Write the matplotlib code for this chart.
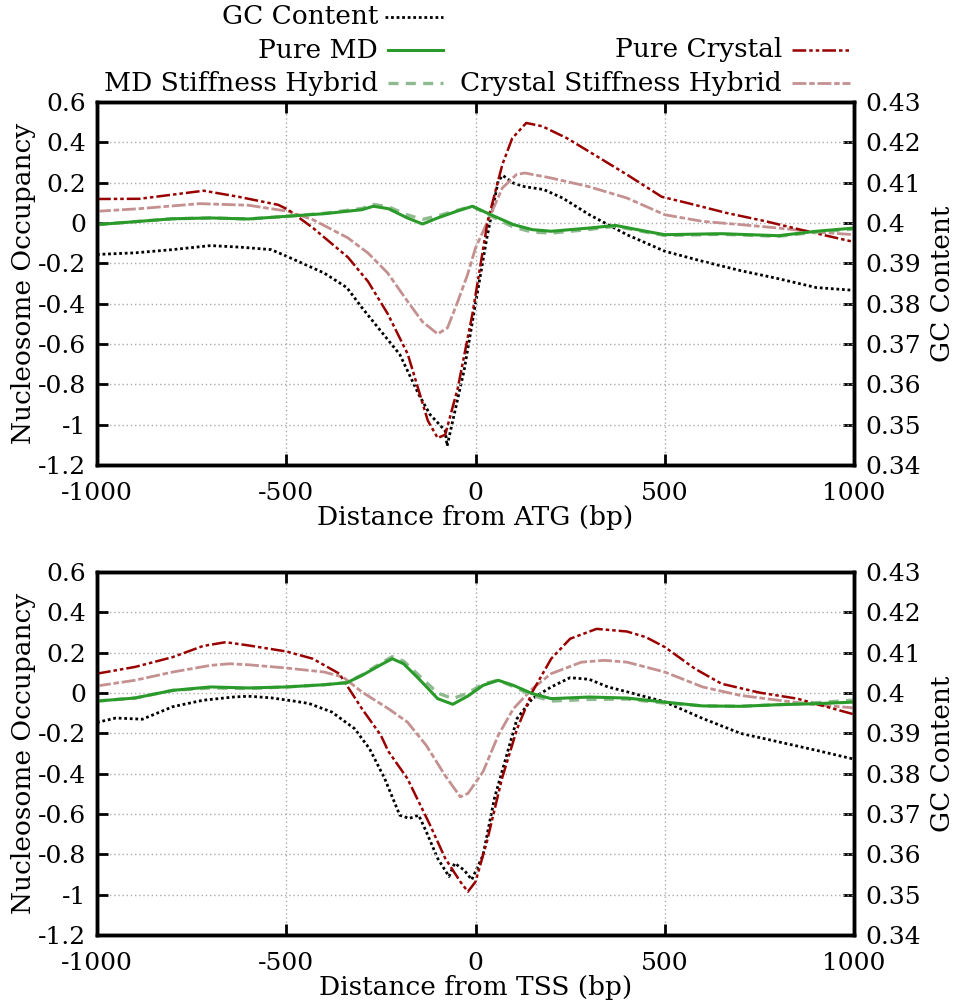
import matplotlib
matplotlib.use("Agg")
import matplotlib.pyplot as plt
from matplotlib.lines import Line2D

plt.rcParams['font.family'] = ['DejaVu Serif']

# ---------------- Top panel (ATG) ----------------
atg_crystal_x = [-1000, -888, -718, -626, -521, -495, -429, -337, -284, -232, -179, -126, -100, -80, -47, -8, 32, 71, 97, 134, 176, 242, 295, 400, 492, 558, 663, 768, 874, 1000]
atg_crystal_y = [0.119, 0.12, 0.16, 0.13, 0.09, 0.066, -0.025, -0.17, -0.29, -0.45, -0.65, -0.98, -1.066, -1.05, -0.82, -0.45, 0.008, 0.29, 0.42, 0.496, 0.48, 0.42, 0.36, 0.24, 0.13, 0.10, 0.05, 0.008, -0.04, -0.094]

atg_crysthyb_x = [-1000, -888, -729, -600, -495, -430, -337, -284, -232, -179, -140, -100, -74, -47, -21, 0, 32, 71, 108, 130, 200, 300, 400, 500, 600, 700, 800, 900, 1000]
atg_crysthyb_y = [0.058, 0.071, 0.096, 0.088, 0.058, 0.017, -0.074, -0.149, -0.248, -0.39, -0.49, -0.55, -0.52, -0.39, -0.256, -0.124, 0.008, 0.174, 0.24, 0.248, 0.223, 0.18, 0.124, 0.041, 0.008, -0.008, -0.025, -0.045, -0.058]

atg_md_x = [-1000, -800, -700, -600, -500, -400, -300, -270, -230, -180, -140, -100, -50, -8, 30, 100, 150, 200, 300, 370, 450, 500, 650, 800, 900, 1000]
atg_md_y = [-0.008, 0.021, 0.025, 0.02, 0.033, 0.046, 0.066, 0.083, 0.071, 0.025, -0.005, 0.025, 0.058, 0.083, 0.05, -0.008, -0.033, -0.041, -0.025, -0.012, -0.041, -0.058, -0.053, -0.063, -0.041, -0.025]

atg_mdhyb_x = [-1000, -800, -700, -600, -500, -400, -300, -270, -230, -180, -140, -100, -50, -8, 30, 100, 150, 200, 300, 370, 450, 500, 650, 800, 900, 1000]
atg_mdhyb_y = [-0.008, 0.021, 0.025, 0.02, 0.033, 0.048, 0.072, 0.092, 0.08, 0.04, 0.018, 0.035, 0.062, 0.083, 0.045, -0.02, -0.045, -0.05, -0.032, -0.016, -0.045, -0.062, -0.056, -0.066, -0.045, -0.03]

atg_gc_x = [-1000, -900, -800, -700, -620, -540, -500, -450, -400, -340, -300, -250, -200, -150, -120, -80, -75, -60, -30, 0, 30, 60, 72, 100, 130, 180, 230, 300, 350, 400, 500, 600, 700, 800, 900, 1000]
atg_gc_y = [0.3922, 0.3926, 0.3934, 0.3944, 0.394, 0.3934, 0.3918, 0.3897, 0.3876, 0.384, 0.379, 0.3732, 0.3674, 0.3575, 0.3525, 0.3485, 0.3447, 0.351, 0.3635, 0.38, 0.3963, 0.4104, 0.4118, 0.4099, 0.409, 0.4083, 0.4062, 0.4021, 0.3996, 0.3971, 0.393, 0.3905, 0.3882, 0.3862, 0.384, 0.3833]

# ---------------- Bottom panel (TSS) ----------------
tss_crystal_x = [-1000, -900, -800, -720, -660, -600, -500, -430, -360, -300, -250, -230, -180, -120, -80, -40, -20, 0, 30, 70, 110, 150, 200, 250, 320, 400, 450, 500, 580, 650, 750, 850, 1000]
tss_crystal_y = [0.096, 0.129, 0.178, 0.233, 0.252, 0.236, 0.206, 0.17, 0.096, -0.078, -0.21, -0.29, -0.424, -0.655, -0.82, -0.936, -0.985, -0.936, -0.738, -0.424, -0.177, 0.005, 0.17, 0.269, 0.318, 0.305, 0.277, 0.228, 0.12, 0.046, 0.002, -0.028, -0.106]

tss_crysthyb_x = [-1000, -900, -800, -700, -650, -600, -500, -400, -350, -300, -230, -180, -130, -80, -40, -20, 20, 60, 100, 150, 200, 280, 340, 400, 500, 600, 700, 800, 900, 1000]
tss_crysthyb_y = [0.035, 0.063, 0.104, 0.137, 0.145, 0.14, 0.124, 0.104, 0.079, 0.005, -0.078, -0.144, -0.26, -0.41, -0.515, -0.498, -0.39, -0.21, -0.078, 0.021, 0.096, 0.153, 0.162, 0.153, 0.104, 0.03, -0.012, -0.036, -0.058, -0.074]

tss_md_x = [-1000, -900, -800, -700, -600, -500, -400, -340, -300, -250, -220, -190, -150, -100, -60, -20, 20, 60, 100, 150, 200, 300, 400, 500, 600, 700, 800, 900, 1000]
tss_md_y = [-0.04, -0.025, 0.013, 0.03, 0.025, 0.03, 0.041, 0.051, 0.087, 0.14, 0.17, 0.145, 0.071, -0.028, -0.056, -0.015, 0.038, 0.063, 0.038, -0.003, -0.028, -0.02, -0.025, -0.045, -0.064, -0.066, -0.058, -0.053, -0.045]

tss_mdhyb_x = [-1000, -900, -800, -700, -600, -500, -400, -340, -300, -250, -220, -190, -150, -100, -60, -20, 20, 60, 100, 150, 200, 300, 400, 500, 600, 700, 800, 900, 1000]
tss_mdhyb_y = [-0.04, -0.025, 0.013, 0.025, 0.022, 0.03, 0.041, 0.052, 0.09, 0.148, 0.18, 0.158, 0.088, 0.0, -0.028, 0.0, 0.045, 0.063, 0.032, -0.012, -0.04, -0.032, -0.03, -0.05, -0.064, -0.066, -0.058, -0.048, -0.035]

tss_gc_x = [-1000, -950, -880, -800, -720, -640, -600, -540, -480, -440, -380, -320, -280, -240, -200, -175, -150, -130, -100, -70, -55, -30, -10, 20, 50, 80, 110, 150, 200, 250, 300, 350, 400, 500, 600, 700, 800, 900, 1000]
tss_gc_y = [0.3927, 0.3938, 0.3935, 0.3966, 0.3982, 0.399, 0.3992, 0.3988, 0.398, 0.3974, 0.3953, 0.3912, 0.3862, 0.3788, 0.3697, 0.3689, 0.3697, 0.3656, 0.359, 0.3545, 0.3578, 0.3561, 0.3537, 0.3598, 0.3739, 0.3838, 0.3937, 0.3986, 0.4015, 0.4038, 0.4034, 0.4015, 0.4003, 0.3978, 0.3937, 0.39, 0.3879, 0.3858, 0.3836]

x_ticks = [-1000, -500, 0, 500, 1000]
y_ticks = [-1.2, -1.0, -0.8, -0.6, -0.4, -0.2, 0.0, 0.2, 0.4, 0.6]
y_labels = ['-1.2', '-1', '-0.8', '-0.6', '-0.4', '-0.2', '0', '0.2', '0.4', '0.6']
gc_ticks = [0.34, 0.35, 0.36, 0.37, 0.38, 0.39, 0.40, 0.41, 0.42, 0.43]
gc_labels = ['0.34', '0.35', '0.36', '0.37', '0.38', '0.39', '0.4', '0.41', '0.42', '0.43']

# styles
C_MD = '#2a9a2a'
C_MDH = '#8fba8f'
C_CR = '#990000'
C_CRH = '#c49090'
ST_GC = dict(color='black', lw=2.0, linestyle=(0, (1, 1)))
ST_MD = dict(color=C_MD, lw=2.2, linestyle='-')
ST_MDH = dict(color=C_MDH, lw=2.4, linestyle=(0, (3, 2.2)))
ST_CR = dict(color=C_CR, lw=1.8, linestyle=(0, (5.5, 1.2, 1.4, 1.2, 1.4, 1.2)))
ST_CRH = dict(color=C_CRH, lw=2.0, linestyle=(0, (5, 1.0, 2.0, 1.0)))

FS = 18     # tick labels
FL = 19     # axis labels and legend

fig = plt.figure(figsize=(9.55, 10.02), dpi=100)

def panel(rect, gcx, gcy, crx, cry, chx, chy, mdx, mdy, mhx, mhy, xlabel):
    ax = fig.add_axes(rect)
    ax2 = ax.twinx()
    ax.set_zorder(2)
    ax.patch.set_visible(False)
    ax.set_xlim(-1000, 1000)
    ax.set_ylim(-1.2, 0.6)
    ax2.set_ylim(0.34, 0.43)
    ax.set_xticks(x_ticks)
    ax.set_xticklabels([str(v) for v in x_ticks])
    ax.set_yticks(y_ticks)
    ax.set_yticklabels(y_labels)
    ax2.set_yticks(gc_ticks)
    ax2.set_yticklabels(gc_labels)
    ax.grid(True, color='#aaaaaa', linestyle=(0, (1, 2)), lw=1.0)
    ax.tick_params(axis='y', direction='in', length=8, width=2, labelsize=FS, pad=8)
    ax.tick_params(axis='x', direction='in', length=8, width=2, labelsize=FS, top=True, pad=12)
    ax2.tick_params(axis='y', direction='in', length=8, width=2, labelsize=FS, pad=8)
    for a in (ax, ax2):
        for s in a.spines.values():
            s.set_linewidth(2.5)
    ax2.plot(gcx, gcy, **ST_GC)
    ax.plot(chx, chy, **ST_CRH)
    ax.plot(crx, cry, **ST_CR)
    ax.plot(mhx, mhy, **ST_MDH)
    ax.plot(mdx, mdy, **ST_MD)
    ax.set_xlabel(xlabel, fontsize=FL, labelpad=0)
    ax.set_ylabel('Nucleosome Occupancy', fontsize=FL, labelpad=1)
    ax2.set_ylabel('GC Content', fontsize=FL, labelpad=7)
    return ax

W, H = 955, 1002
panel([97 / W, 1 - 465 / H, (854 - 97) / W, 363 / H], atg_gc_x, atg_gc_y, atg_crystal_x, atg_crystal_y,
      atg_crysthyb_x, atg_crysthyb_y, atg_md_x, atg_md_y, atg_mdhyb_x, atg_mdhyb_y, 'Distance from ATG (bp)')
panel([97 / W, 1 - 935 / H, (854 - 97) / W, 363 / H], tss_gc_x, tss_gc_y, tss_crystal_x, tss_crystal_y,
      tss_crysthyb_x, tss_crysthyb_y, tss_md_x, tss_md_y, tss_mdhyb_x, tss_mdhyb_y, 'Distance from TSS (bp)')

# legend (gnuplot style: text right-aligned, sample to the right)
legend_entries = [
    ('GC Content', ST_GC, 378, 385, 443, 17),
    ('Pure MD', ST_MD, 378, 388, 443, 50),
    ('MD Stiffness Hybrid', ST_MDH, 378, 388, 443, 83),
    ('Pure Crystal', ST_CR, 782, 792, 850, 50),
    ('Crystal Stiffness Hybrid', ST_CRH, 782, 792, 850, 83),
]
for label, st, tx, x0, x1, y in legend_entries:
    fig.text(tx / W, 1 - y / H, label, ha='right', va='center', fontsize=FL)
    fig.add_artist(Line2D([x0 / W, x1 / W], [1 - y / H, 1 - y / H], transform=fig.transFigure, **st))

fig.savefig('out.png', dpi=100)
